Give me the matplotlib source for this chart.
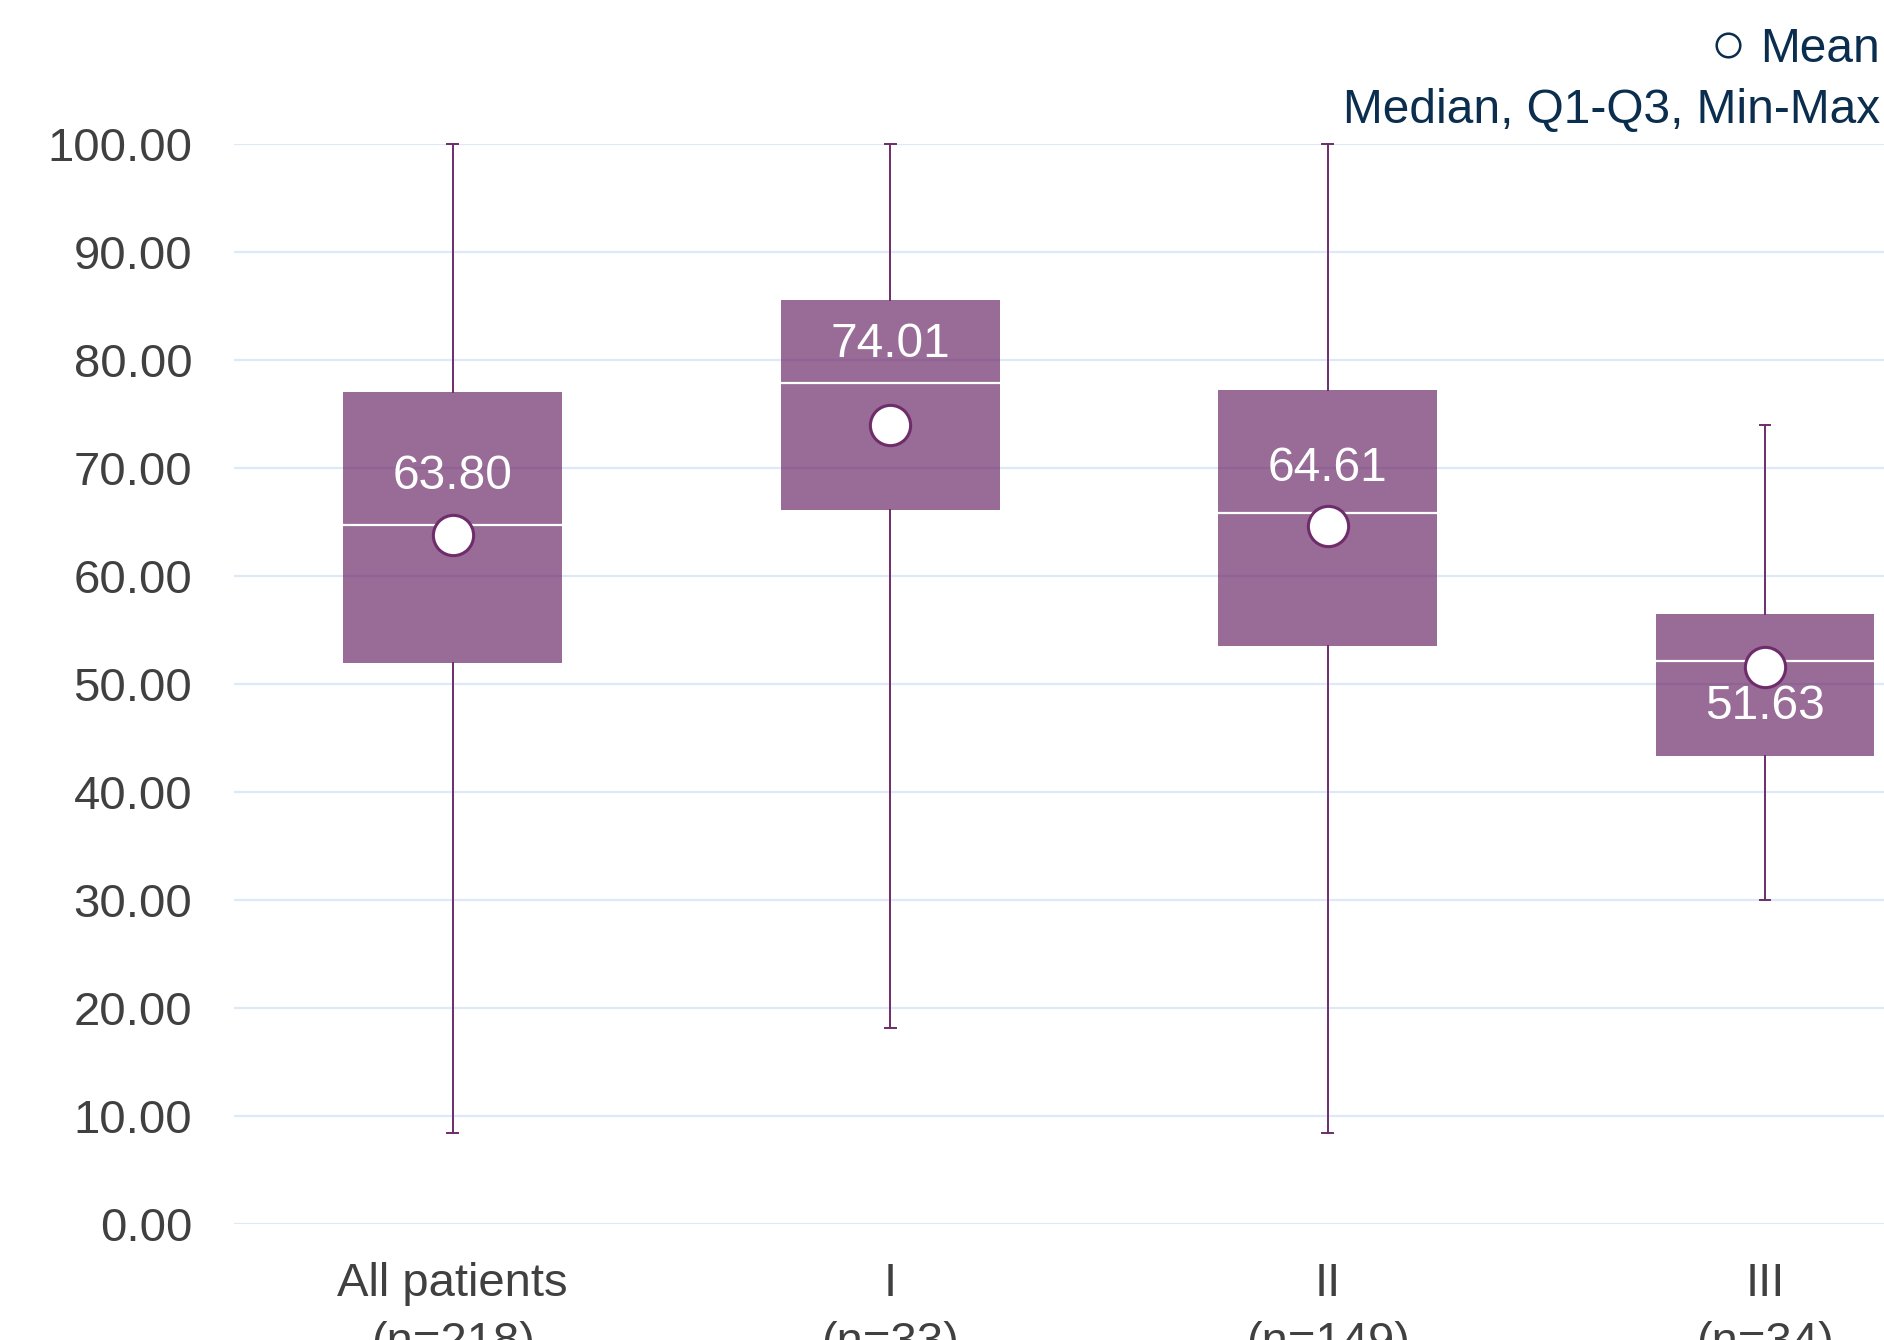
import matplotlib
matplotlib.use("Agg")
import matplotlib.pyplot as plt

plt.rcParams['font.family'] = ['Liberation Sans', 'DejaVu Sans']

# data
groups = ["All patients\n(n=218)", "I\n(n=33)", "II\n(n=149)", "III\n(n=34)"]
mins = [8.45, 18.2, 8.45, 30.0]
q1 = [51.95, 66.1, 53.5, 43.4]
medians = [64.74, 77.86, 65.85, 52.17]
q3 = [77.08, 85.54, 77.2, 56.5]
maxs = [100.0, 100.0, 100.0, 73.97]
means = [63.80, 74.01, 64.61, 51.63]
# where the mean label sits relative to the mean marker (data units)
label_offset = [5.4, 7.4, 5.35, -3.7]

purple = "#6E2C6B"
grid_col = "#DDE9F7"
tick_col = "#404040"
legend_col = "#0B2E4F"

stats = []
for i in range(len(groups)):
    stats.append(dict(med=medians[i], q1=q1[i], q3=q3[i],
                      whislo=mins[i], whishi=maxs[i], mean=means[i],
                      label=groups[i]))

fig = plt.figure(figsize=(18.84, 13.4), dpi=100)
ax = fig.add_axes([0.1242, 0.0862, 0.8758, 0.8063])

bp = ax.bxp(stats, positions=range(len(groups)), widths=0.5,
            patch_artist=True, showmeans=True, showfliers=False,
            capwidths=0.025,
            boxprops=dict(facecolor=purple, edgecolor='none', alpha=0.7),
            medianprops=dict(color='white', linewidth=1.6),
            whiskerprops=dict(color=purple, linewidth=1.4),
            capprops=dict(color=purple, linewidth=1.4),
            meanprops=dict(marker='o', markerfacecolor='white',
                           markeredgecolor=purple, markeredgewidth=2.2,
                           markersize=29))
for art in bp['caps'] + bp['whiskers']:
    art.set_clip_on(False)

for i, m in enumerate(means):
    ax.text(i, m + label_offset[i], f"{m:.2f}", ha='center', va='center',
            color='white', fontsize=34.5, zorder=5)

ax.set_ylim(0, 100)
ax.set_xlim(-0.5, 3.272)
ax.set_yticks(range(0, 101, 10))
ax.set_yticklabels([f"{v:.2f}" for v in range(0, 101, 10)])
ax.set_xticks(range(len(groups)))
ax.set_xticklabels(groups, linespacing=1.45)
ax.yaxis.grid(True, color=grid_col, linewidth=1.6)
ax.set_axisbelow(True)
for s in ax.spines.values():
    s.set_visible(False)
ax.tick_params(axis='y', length=0, pad=30, labelsize=34, labelcolor=tick_col)
ax.tick_params(axis='x', length=0, pad=27, labelsize=34, labelcolor=tick_col)

# legend text at the top right
fig.text(0.998, 1 - 62 / 1340, "Mean", ha='right', va='baseline',
         fontsize=34.5, color=legend_col)
fig.text(0.998, 1 - 123 / 1340, "Median, Q1-Q3, Min-Max", ha='right',
         va='baseline', fontsize=34.5, color=legend_col)
ax.plot([1728 / 1884], [1 - 45 / 1340], marker='o', markersize=17,
        markerfacecolor='white', markeredgecolor=legend_col,
        markeredgewidth=1.8, transform=fig.transFigure, clip_on=False)

fig.savefig("out.png", dpi=100)
